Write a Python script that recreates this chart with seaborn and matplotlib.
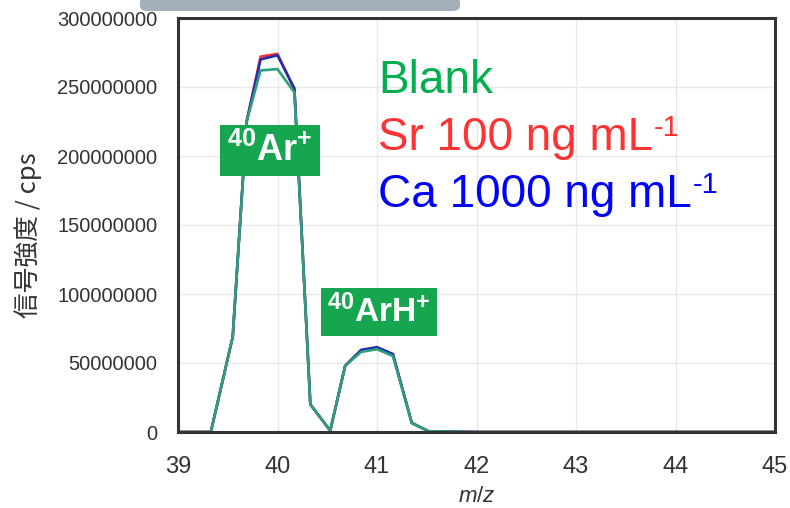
import numpy as np
import pandas as pd
import matplotlib
matplotlib.use("Agg")
import matplotlib.pyplot as plt
import seaborn as sns
from matplotlib.patches import FancyBboxPatch
from matplotlib.ticker import FuncFormatter

# ---- data ----
mz = [39.0, 39.33, 39.55, 39.69, 39.83, 40.0, 40.17, 40.33, 40.53, 40.68,
      40.84, 41.0, 41.16, 41.35, 41.52, 42.0, 43.0, 44.0, 45.0]
blank = [0, 0, 69e6, 225e6, 262e6, 263e6, 246e6, 20e6, 1e6, 48e6,
         58e6, 60e6, 55e6, 6.5e6, 0.5e6, 0, 0, 0, 0]
sr100 = [0, 0, 69e6, 225e6, 272e6, 274e6, 248e6, 20e6, 1e6, 48e6,
         59e6, 61e6, 56e6, 6.5e6, 0.5e6, 0, 0, 0, 0]
ca1000 = [0, 0, 69e6, 225e6, 270e6, 273e6, 249e6, 20e6, 1e6, 48e6,
          59.5e6, 61.5e6, 56.5e6, 6.5e6, 0.5e6, 0, 0, 0, 0]
series_names = ["Sr 100 ng mL-1", "Ca 1000 ng mL-1", "Blank"]
x_ticks = [39, 40, 41, 42, 43, 44, 45]
y_ticks = [0, 50000000, 100000000, 150000000, 200000000, 250000000, 300000000]

df = pd.DataFrame({
    "mz": mz * 3,
    "cps": sr100 + ca1000 + blank,
    "series": [series_names[0]] * len(mz) + [series_names[1]] * len(mz) + [series_names[2]] * len(mz),
})

sns.set_theme(style="white")
plt.rcParams['font.family'] = ['Liberation Sans', 'Noto Sans CJK JP', 'DejaVu Sans']
plt.rcParams['mathtext.fontset'] = 'custom'
plt.rcParams['mathtext.rm'] = 'Liberation Sans'
plt.rcParams['mathtext.it'] = 'Liberation Sans:italic'
plt.rcParams['mathtext.bf'] = 'Liberation Sans:bold'

fig = plt.figure(figsize=(7.9, 5.08), dpi=100)
ax = fig.add_axes([178/790, 1-432/508, (775-178)/790, (432-18)/508])

line_colors = {series_names[0]: "#ff3030", series_names[1]: "#1f2fb0", series_names[2]: "#2e9e7e"}
sns.lineplot(data=df, x="mz", y="cps", hue="series", palette=line_colors,
             hue_order=series_names, estimator=None, sort=False,
             linewidth=1.9, legend=False, ax=ax)

ax.set_xlim(39, 45)
ax.set_ylim(0, 300000000)
ax.set_xticks(x_ticks)
ax.set_yticks(y_ticks)
ax.yaxis.set_major_formatter(FuncFormatter(lambda v, p: f"{int(round(v))}"))
ax.grid(True, color="#e8e8e8", linewidth=1.0)
ax.set_axisbelow(True)
for s in ax.spines.values():
    s.set_visible(True)
    s.set_color("#333333")
    s.set_linewidth(2.2)
ax.tick_params(axis="both", length=0, colors="#333333")
ax.tick_params(axis="y", labelsize=14.5, pad=15)
ax.tick_params(axis="x", labelsize=17, pad=17)
ax.set_xlabel("$\\it{m/z}$", fontsize=16, color="#333333", labelpad=6)
ax.set_ylabel("信号強度 / cps", fontsize=18.5, color="#333333",
              family=['Noto Sans CJK JP', 'DejaVu Sans'])
ax.yaxis.set_label_coords(-0.228, 0.475)

# ion labels
box = dict(boxstyle="square,pad=0.2", fc="#15a64f", ec="none")
ax.text(39.92, 204e6, r"$\mathbf{^{40}Ar^{+}}$", color="white", fontsize=26,
        ha="center", va="center", bbox=box)
ax.text(41.02, 87e6, r"$\mathbf{^{40}ArH^{+}}$", color="white", fontsize=24,
        ha="center", va="center", bbox=box)

# legend-like text with small superscripts
text_colors = ["#00b050", "#ff3333", "#0000ff"]
bases = ["Blank", "Sr 100 ng mL", "Ca 1000 ng mL"]
sups = ["", "-1", "-1"]
baselines = [93, 150, 207]
renderer = fig.canvas.get_renderer()
for base, sup, col, yb in zip(bases, sups, text_colors, baselines):
    t = fig.text(378/790, 1 - yb/508, base, color=col, fontsize=33,
                 ha="left", va="baseline")
    if sup:
        bb = t.get_window_extent(renderer=renderer)
        fig.text((bb.x1 + 1)/790, 1 - (yb - 14)/508, sup, color=col,
                 fontsize=21, ha="left", va="baseline")

# top grey bar artifact
bar = FancyBboxPatch((140/790, 1-11/508), 320/790, 14/508,
                     boxstyle="round,pad=0,rounding_size=0.01",
                     transform=fig.transFigure, fc="#a3b0bc", ec="none")
fig.patches.append(bar)

fig.savefig("out.png", dpi=100)
